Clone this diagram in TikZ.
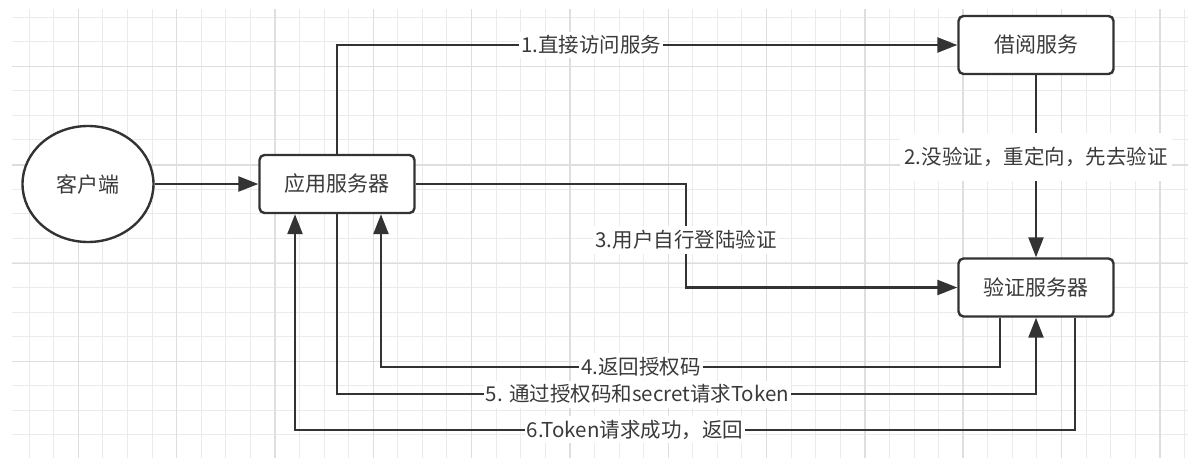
\documentclass[tikz,border=0pt]{standalone}
\usepackage{fontspec}
\setmainfont{Noto Sans CJK SC}
\usetikzlibrary{arrows.meta,shapes.geometric,calc}
\definecolor{ink}{HTML}{333333}
\definecolor{txt}{HTML}{3A3A3A}
\definecolor{gminor}{HTML}{EBEBEB}
\definecolor{gmajor}{HTML}{DEDEDE}
\tikzset{
  boxnode/.style={draw=ink, line width=2.4pt, rounded corners=5pt, minimum width=155pt, minimum height=58pt, fill=white, text=txt, font=\fontsize{21}{25}\selectfont},
  ellnode/.style={draw=ink, line width=2.4pt, ellipse, minimum width=131pt, minimum height=116pt, fill=white, text=txt, font=\fontsize{21}{25}\selectfont},
  conn/.style={draw=ink, line width=2.4pt, -{Triangle[length=20pt,width=15pt]}},
  lbl/.style={fill=white, text=txt, font=\fontsize{20.5}{24}\selectfont, inner xsep=2pt, inner ysep=4pt},
  gminorline/.style={draw=gminor, line width=0.9pt},
  gmajorline/.style={draw=gmajor, line width=1.4pt}
}
\begin{document}
\begin{tikzpicture}[x=1pt,y=-1pt]
\useasboundingbox (0,0) rectangle (1201,461);
\fill[white] (0,0) rectangle (1201,461);
\begin{scope}
\clip (12,9) rectangle (1188,458);
\foreach \i in {0,...,48} \draw[gminorline] ({4.5+24.58*\i},9) -- ({4.5+24.58*\i},458);
\foreach \i in {0,...,18} \draw[gminorline] (12,{17+24.58*\i}) -- (1188,{17+24.58*\i});
\foreach \i in {0,...,11} \draw[gmajorline] ({78.3+98.32*\i},9) -- ({78.3+98.32*\i},458);
\foreach \i in {0,...,4} \draw[gmajorline] (12,{66.7+98.32*\i}) -- (1188,{66.7+98.32*\i});
\end{scope}

\node[ellnode] (client) at (88,184) {客户端};
\node[boxnode] (app) at (337,184) {应用服务器};
\node[boxnode] (borrow) at (1036,45) {借阅服务};
\node[boxnode] (auth) at (1036,287.5) {验证服务器};
\coordinate (c3) at (686,240);

\draw[conn] (client.east) -- (app.west);
\draw[conn] (app.north) |- node[lbl, pos=0.705] {1.直接访问服务} (borrow.west);
\draw[conn] (borrow.south) -- node[lbl, pos=0.45, inner xsep=4pt, inner ysep=14pt] {2.没验证，重定向，先去验证} (auth.north);
\draw[conn] (app.east) -| (c3) |- (auth.west);
\node[lbl] at (c3) {3.用户自行登陆验证};
\draw[conn] ([xshift=-36pt]auth.south) -- ++(0,49) -| node[lbl, pos=0.29] {4.返回授权码} ([xshift=44pt]app.south);
\draw[conn] (app.south) -- ++(0,180) -| node[lbl, pos=0.215] {5. 通过授权码和secret请求Token} (auth.south);
\draw[conn] ([xshift=39pt]auth.south) -- ++(0,112) -| node[lbl, pos=0.282] {6.Token请求成功，返回} ([xshift=-42pt]app.south);
\end{tikzpicture}
\end{document}
